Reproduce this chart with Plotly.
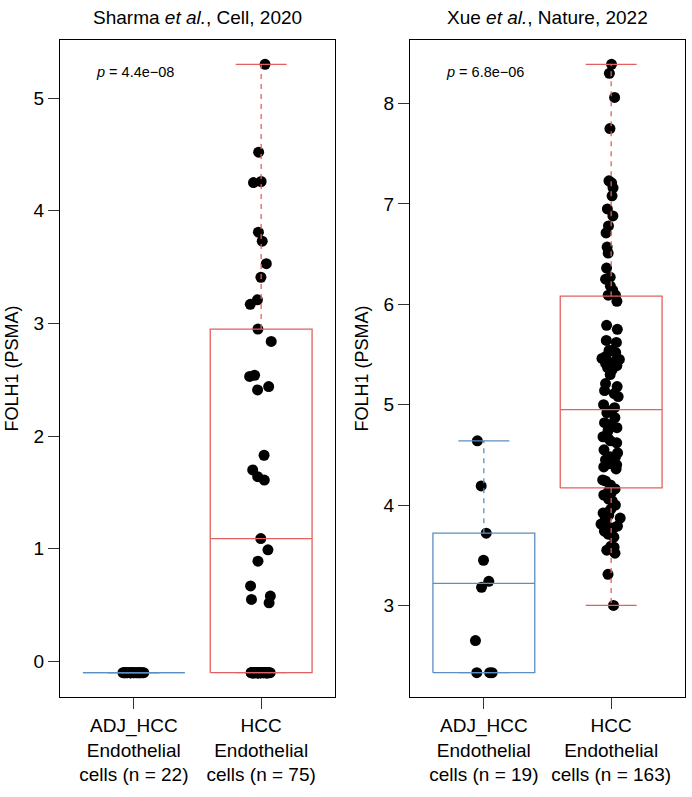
import plotly.graph_objects as go

# ---------------- data ----------------
categories = ["ADJ_HCC<br>Endothelial<br>cells (n = 22)", "HCC<br>Endothelial<br>cells (n = 75)"]
categories_r = ["ADJ_HCC<br>Endothelial<br>cells (n = 19)", "HCC<br>Endothelial<br>cells (n = 163)"]
titles = ["Sharma <i>et al.</i>, Cell, 2020", "Xue <i>et al.</i>, Nature, 2022"]
pvals = ["<i>p</i> = 4.4e\u221208", "<i>p</i> = 6.8e\u221206"]

sharma_adj = [-0.1] * 22
sharma_hcc = [5.30, 4.52, 4.26, 4.25, 3.81, 3.73, 3.53, 3.41, 3.21, 3.17, 2.95, 2.84,
              2.54, 2.53, 2.44, 2.41, 1.83, 1.70, 1.64, 1.61, 1.09, 0.99, 0.89, 0.67,
              0.58, 0.55, 0.52] + [-0.1] * 48

xue_adj = [4.64, 4.19, 3.72, 3.45, 3.24, 3.18, 2.65, 2.33, 2.33, 2.33]
xue_hcc = [8.39, 8.30, 8.06, 7.75, 7.23, 7.21, 7.16, 7.08, 6.95, 6.88, 6.78, 6.71, 6.57,
           6.51, 6.36, 6.27, 6.25, 6.18, 6.14, 6.09, 6.09, 6.03,
           5.79, 5.75, 5.64, 5.62, 5.54, 5.54, 5.52, 5.48, 5.46, 5.45, 5.43, 5.41, 5.39,
           5.37, 5.35, 5.30, 5.21, 5.18, 5.14, 5.11, 5.08, 5.00, 4.97, 4.94, 4.92, 4.87,
           4.82, 4.80, 4.77, 4.74, 4.68, 4.67, 4.64, 4.62, 4.55, 4.52, 4.48, 4.48, 4.45,
           4.41, 4.41, 4.40, 4.38, 4.36, 4.25, 4.24, 4.20, 4.16, 4.14, 4.12, 4.10, 4.06,
           4.04, 4.00, 3.96, 3.93, 3.92, 3.90, 3.87, 3.85, 3.81, 3.79, 3.78, 3.77, 3.74,
           3.71, 3.68, 3.59, 3.58, 3.57, 3.55, 3.52, 3.31, 3.00]

# box statistics: lower whisker, Q1, median, Q3, upper whisker
sharma_stats = [[-0.1, -0.1, -0.1, -0.1, -0.1], [-0.1, -0.1, 1.09, 2.95, 5.30]]
xue_stats = [[2.33, 2.33, 3.22, 3.72, 4.64], [3.00, 4.17, 4.95, 6.08, 8.39]]

left_ticks = [0, 1, 2, 3, 4, 5]
right_ticks = [3, 4, 5, 6, 7, 8]

# ---------------- style ----------------
BLUE = "#5B8EC1"
RED = "#E2605F"
FONT = "Liberation Sans, Arial, sans-serif"
HALF = 0.4
CAP = 0.2

fig = go.Figure()


def point_trace(xa, ya, pos, vals, jitter):
    return go.Box(x=[pos] * len(vals), y=vals, xaxis=xa, yaxis=ya,
                  boxpoints="all", jitter=jitter, pointpos=0, width=0.8,
                  line=dict(width=0, color="rgba(0,0,0,0)"),
                  fillcolor="rgba(0,0,0,0)",
                  marker=dict(color="black", size=11, line=dict(width=0)),
                  showlegend=False, hoveron="points")


def add_panel(xa, ya, stats, groups):
    colors = [BLUE, RED]
    for i, (st, col) in enumerate(zip(stats, colors)):
        p = i + 1
        lo, q1, med, q3, hi = st
        common = dict(xaxis=xa, yaxis=ya, mode="lines", showlegend=False, hoverinfo="skip")
        dash = dict(color=col, width=1.3, dash="5px,5px")
        solid = dict(color=col, width=1.3)
        fig.add_trace(go.Scatter(x=[p, p], y=[q3, hi], line=dash, **common))
        fig.add_trace(go.Scatter(x=[p, p], y=[q1, lo], line=dash, **common))
        fig.add_trace(go.Scatter(x=[p - CAP, p + CAP], y=[hi, hi], line=solid, **common))
        fig.add_trace(go.Scatter(x=[p - CAP, p + CAP], y=[lo, lo], line=solid, **common))
        fig.add_trace(go.Scatter(x=[p - HALF, p + HALF, p + HALF, p - HALF, p - HALF],
                                 y=[q1, q1, q3, q3, q1], line=solid, **common))
        fig.add_trace(go.Scatter(x=[p - HALF, p + HALF], y=[med, med], line=solid, **common))
    for i, vals in enumerate(groups):
        floor = [v for v in vals if v == min(vals)]
        rest = [v for v in vals if v != min(vals)]
        if len(floor) >= 10 and rest:
            fig.add_trace(point_trace(xa, ya, i + 1, floor, 0.2))
            fig.add_trace(point_trace(xa, ya, i + 1, rest, 0.3))
        else:
            fig.add_trace(point_trace(xa, ya, i + 1, vals, 0.22))


add_panel("x", "y", sharma_stats, [sharma_adj, sharma_hcc])
add_panel("x2", "y2", xue_stats, [xue_adj, xue_hcc])

axis_common = dict(showline=True, mirror=True, linecolor="black", linewidth=1.3,
                   ticks="outside", ticklen=11, tickwidth=1.3, tickcolor="#333",
                   showgrid=False, zeroline=False)


def yrange(vals):
    lo, hi = min(vals), max(vals)
    d = (hi - lo) * 0.04
    return [lo - d, hi + d]


fig.update_layout(
    width=692, height=797,
    margin=dict(l=60, r=7, t=40, b=100),
    plot_bgcolor="white", paper_bgcolor="white",
    boxmode="overlay",
    font=dict(family=FONT, color="black"),
    xaxis=dict(domain=[0, 0.44], range=[0.42, 2.58], tickvals=[1, 2], ticktext=categories,
               tickfont=dict(size=19), **axis_common),
    xaxis2=dict(domain=[0.56, 1], range=[0.42, 2.58], tickvals=[1, 2], ticktext=categories_r,
                tickfont=dict(size=19), anchor="y2", **axis_common),
    yaxis=dict(range=yrange(sharma_adj + sharma_hcc), tickvals=left_ticks, tickfont=dict(size=19),
               title=dict(text="FOLH1 (PSMA)", font=dict(size=18), standoff=10), **axis_common),
    yaxis2=dict(range=yrange(xue_adj + xue_hcc), tickvals=right_ticks, tickfont=dict(size=19),
                anchor="x2",
                title=dict(text="FOLH1 (PSMA)", font=dict(size=18), standoff=10), **axis_common),
)

for xd, t in zip(["x domain", "x2 domain"], titles):
    fig.add_annotation(text=t, xref=xd, yref="paper", x=0.5, y=1.0335, yanchor="middle",
                       showarrow=False, font=dict(size=19, family=FONT))
for xr, yr, t in zip(["x", "x2"], ["y domain", "y2 domain"], pvals):
    fig.add_annotation(text=t, xref=xr, yref=yr, x=0.69, y=0.952, xanchor="left", yanchor="middle",
                       showarrow=False, font=dict(size=14.5, family=FONT))

fig.write_html("out.html")
